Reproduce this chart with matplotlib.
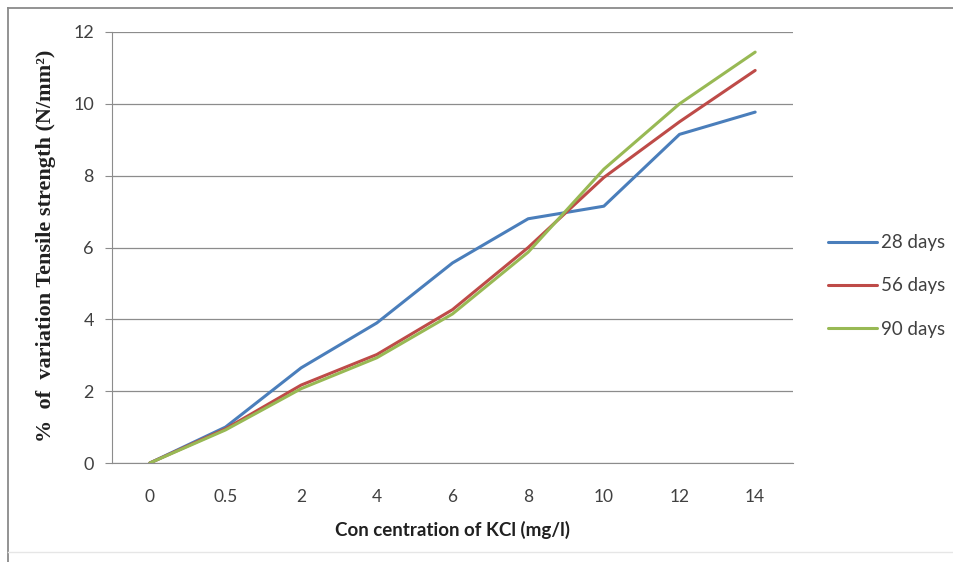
import matplotlib
matplotlib.use("Agg")
import matplotlib.pyplot as plt
from matplotlib.lines import Line2D

# KCl concentration categories (mg/l) and % variation of tensile strength
concentration = ["0", "0.5", "2", "4", "6", "8", "10", "12", "14"]
days_28 = [0, 1.0, 2.65, 3.9, 5.57, 6.8, 7.15, 9.15, 9.77]
days_56 = [0, 0.95, 2.17, 3.02, 4.27, 6.0, 7.95, 9.5, 10.93]
days_90 = [0, 0.92, 2.07, 2.93, 4.15, 5.87, 8.18, 10.0, 11.44]
series_labels = ["28 days", "56 days", "90 days"]
y_ticks = [0, 2, 4, 6, 8, 10, 12]

colors = ["#4A7EBB", "#BE4B48", "#98B954"]

W, H = 954, 562
fig = plt.figure(figsize=(W / 100, H / 100), dpi=100)
fig.patch.set_facecolor("white")

# chart frame: top and left edges, faint bottom edge
def fline(x0, y0, x1, y1, color, lw):
    fig.lines.append(Line2D([x0 / W, x1 / W], [1 - y0 / H, 1 - y1 / H],
                            transform=fig.transFigure, color=color, linewidth=lw))

fline(8, 7.5, W, 7.5, "#8A8A8A", 1.3)
fline(8, 7.5, 8, H, "#8A8A8A", 1.3)
fline(8, 552, W, 552, "#E6E6E6", 1.0)

ax = fig.add_axes([112 / W, 1 - 463 / H, 681 / W, 431 / H])
x = list(range(len(concentration)))
for vals, lab, c in zip([days_28, days_56, days_90], series_labels, colors):
    ax.plot(x, vals, color=c, linewidth=2.2, label=lab, solid_capstyle="round")

ax.set_xlim(-0.5, len(concentration) - 0.5)
ax.set_ylim(0, 12)
ax.set_yticks(y_ticks)
ax.set_xticks(x)
ax.set_xticklabels(concentration)
ax.grid(axis="y", color="#8C8C8C", linewidth=0.9)
ax.set_axisbelow(True)
for s in ["top", "right"]:
    ax.spines[s].set_visible(False)
ax.spines["left"].set_color("#8C8C8C")
ax.spines["bottom"].set_color("#8C8C8C")
ax.tick_params(axis="y", length=5, color="#8C8C8C", direction="out",
               labelsize=13, labelcolor="#404040", pad=8)
ax.tick_params(axis="x", length=0, labelsize=12.5, labelcolor="#404040", pad=19)
for t in ax.get_xticklabels() + ax.get_yticklabels():
    t.set_family("Lato")

ax.set_xlabel("Con centration of KCl (mg/l)", fontsize=13.5, fontweight="bold",
              family="Lato", color="#202020", labelpad=11)
ax.set_ylabel("%  of  variation Tensile strength (N/mm²)", fontsize=16,
              fontweight="bold", family="Liberation Serif", color="#202020")
ax.yaxis.set_label_coords((56 - 112) / 681, 0.505)

leg = fig.legend(loc="center left", bbox_to_anchor=(811 / W, 1 - 286 / H),
                 frameon=False, handlelength=2.6, handletextpad=0.25,
                 labelspacing=1.4, prop={"family": "Lato", "size": 13.5})
for t in leg.get_texts():
    t.set_color("#404040")

fig.savefig("out.png", dpi=100)
